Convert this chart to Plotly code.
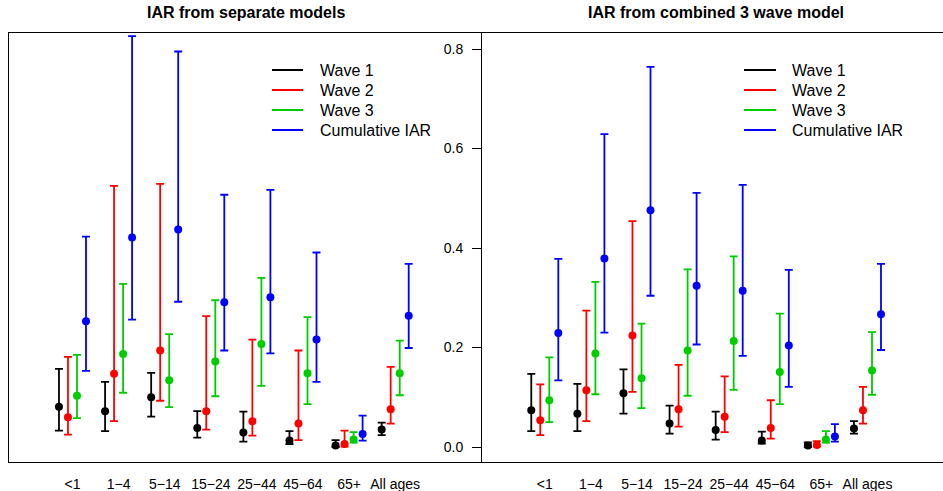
import plotly.graph_objects as go

# ---------------- data ----------------
age_groups = ["<1", "1\u22124", "5\u221214", "15\u221224", "25\u221244", "45\u221264", "65+", "All ages"]
series_names = ["Wave 1", "Wave 2", "Wave 3", "Cumulative IAR"]
series_colors = ["#000000", "#FF0000", "#00CD00", "#0000FF"]

# Left panel: IAR from separate models (estimate, lower, upper)
sep_w1 = [0.081, 0.072, 0.100, 0.038, 0.029, 0.013, 0.003, 0.035]
sep_w1_lo = [0.033, 0.032, 0.061, 0.019, 0.011, 0.006, 0.000, 0.024]
sep_w1_hi = [0.157, 0.131, 0.149, 0.072, 0.071, 0.032, 0.014, 0.049]

sep_w2 = [0.060, 0.147, 0.194, 0.072, 0.052, 0.047, 0.006, 0.076]
sep_w2_lo = [0.025, 0.052, 0.093, 0.035, 0.023, 0.014, 0.001, 0.047]
sep_w2_hi = [0.181, 0.525, 0.529, 0.263, 0.216, 0.194, 0.033, 0.161]

sep_w3 = [0.103, 0.187, 0.134, 0.172, 0.207, 0.148, 0.015, 0.148]
sep_w3_lo = [0.058, 0.109, 0.080, 0.102, 0.123, 0.086, 0.009, 0.104]
sep_w3_hi = [0.185, 0.328, 0.227, 0.295, 0.340, 0.261, 0.030, 0.214]

sep_cum = [0.253, 0.421, 0.437, 0.291, 0.301, 0.216, 0.026, 0.264]
sep_cum_lo = [0.153, 0.256, 0.292, 0.194, 0.188, 0.131, 0.013, 0.199]
sep_cum_hi = [0.423, 0.826, 0.795, 0.507, 0.517, 0.391, 0.063, 0.368]

# Right panel: IAR from combined 3 wave model
comb_w1 = [0.074, 0.067, 0.108, 0.047, 0.034, 0.013, 0.003, 0.037]
comb_w1_lo = [0.032, 0.032, 0.067, 0.027, 0.015, 0.007, 0.000, 0.027]
comb_w1_hi = [0.147, 0.127, 0.156, 0.083, 0.071, 0.031, 0.009, 0.052]

comb_w2 = [0.054, 0.114, 0.224, 0.076, 0.061, 0.038, 0.004, 0.074]
comb_w2_lo = [0.024, 0.052, 0.111, 0.041, 0.030, 0.017, 0.001, 0.047]
comb_w2_hi = [0.126, 0.274, 0.454, 0.165, 0.142, 0.094, 0.012, 0.121]

comb_w3 = [0.094, 0.188, 0.138, 0.194, 0.213, 0.151, 0.015, 0.154]
comb_w3_lo = [0.050, 0.106, 0.078, 0.103, 0.115, 0.086, 0.009, 0.105]
comb_w3_hi = [0.180, 0.332, 0.248, 0.357, 0.383, 0.268, 0.032, 0.231]

comb_cum = [0.229, 0.379, 0.476, 0.324, 0.314, 0.204, 0.021, 0.267]
comb_cum_lo = [0.134, 0.230, 0.304, 0.206, 0.183, 0.121, 0.011, 0.195]
comb_cum_hi = [0.378, 0.629, 0.764, 0.511, 0.527, 0.356, 0.046, 0.368]

y_ticks = [0.0, 0.2, 0.4, 0.6, 0.8]

# ---------------- layout helpers ----------------
W, H = 943, 491
FONT = "Liberation Sans, Arial, Helvetica, sans-serif"


def fx(p):
    return p / W


def fy(p):
    return 1 - p / H


offsets = [-0.293, -0.098, 0.098, 0.293]
group_pos = list(range(1, len(age_groups) + 1))

panels = [
    ("x", "y", [(sep_w1, sep_w1_lo, sep_w1_hi), (sep_w2, sep_w2_lo, sep_w2_hi),
                (sep_w3, sep_w3_lo, sep_w3_hi), (sep_cum, sep_cum_lo, sep_cum_hi)]),
    ("x2", "y2", [(comb_w1, comb_w1_lo, comb_w1_hi), (comb_w2, comb_w2_lo, comb_w2_hi),
                  (comb_w3, comb_w3_lo, comb_w3_hi), (comb_cum, comb_cum_lo, comb_cum_hi)]),
]

fig = go.Figure()
for xa, ya, sets in panels:
    for k, (est, lo, hi) in enumerate(sets):
        xs = [g + offsets[k] for g in group_pos]
        fig.add_trace(go.Scatter(
            x=xs, y=est, xaxis=xa, yaxis=ya, mode="markers", name=series_names[k],
            marker=dict(color=series_colors[k], size=8),
            error_y=dict(type="data", symmetric=False,
                         array=[h - e for h, e in zip(hi, est)],
                         arrayminus=[e - l for e, l in zip(est, lo)],
                         color=series_colors[k], thickness=1.8, width=4),
            showlegend=False,
        ))

# legends drawn as line samples + labels (R-style legend, no box)
shapes = []
annotations = []
for line_x0, line_x1, text_x in [(272, 303, 318), (744, 776, 790)]:
    for k, name in enumerate(series_names):
        yy = 70 + 20 * k
        shapes.append(dict(type="line", xref="paper", yref="paper",
                           x0=fx(line_x0), x1=fx(line_x1), y0=fy(yy), y1=fy(yy),
                           line=dict(color=series_colors[k], width=2)))
        annotations.append(dict(text=name, x=fx(text_x), y=fy(yy), xref="paper", yref="paper",
                                showarrow=False, xanchor="left", yanchor="middle",
                                font=dict(family=FONT, size=16, color="black")))

annotations += [
    dict(text="<b>IAR from separate models</b>", x=fx(246), y=fy(13),
         xref="paper", yref="paper", showarrow=False,
         xanchor="center", yanchor="middle",
         font=dict(family=FONT, size=16, color="black")),
    dict(text="<b>IAR from combined 3 wave model</b>", x=fx(716), y=fy(13),
         xref="paper", yref="paper", showarrow=False,
         xanchor="center", yanchor="middle",
         font=dict(family=FONT, size=16, color="black")),
]

y_lo = -15 / 497.5
y_hi = 0.8 + 16 / 497.5
ydom = [fy(462), fy(33)]

common_x = dict(
    tickmode="array", tickvals=group_pos, ticktext=age_groups,
    ticks="outside", ticklen=9, tickcolor="rgba(0,0,0,0)",
    showline=True, linecolor="black", linewidth=1, mirror=True,
    showgrid=False, zeroline=False,
    tickfont=dict(family=FONT, size=14, color="black"),
)

fig.update_layout(
    width=W, height=H,
    margin=dict(l=0, r=0, t=0, b=0),
    paper_bgcolor="white", plot_bgcolor="white",
    font=dict(family=FONT, color="black"),
    showlegend=False,
    xaxis=dict(domain=[fx(9), fx(482)], range=[-0.377, 9.883], anchor="y", **common_x),
    xaxis2=dict(domain=[fx(482), fx(943)], range=[-0.362, 9.638], anchor="y2", **common_x),
    yaxis=dict(domain=ydom, range=[y_lo, y_hi], anchor="x",
               tickmode="array", tickvals=y_ticks, showticklabels=False,
               ticks="", showline=True, linecolor="black", linewidth=1,
               showgrid=False, zeroline=False),
    yaxis2=dict(domain=ydom, range=[y_lo, y_hi], anchor="x2",
                tickmode="array", tickvals=y_ticks, tickformat=".1f",
                ticks="outside", ticklen=9, tickcolor="black", tickwidth=1,
                ticklabelstandoff=6,
                tickfont=dict(family=FONT, size=14, color="black"),
                showline=True, linecolor="black", linewidth=1, mirror=False,
                showgrid=False, zeroline=False),
    shapes=shapes,
    annotations=annotations,
)

fig.write_html("out.html", config={"displayModeBar": False},
               post_script="document.body.style.margin='0px';document.body.style.overflow='hidden';")
